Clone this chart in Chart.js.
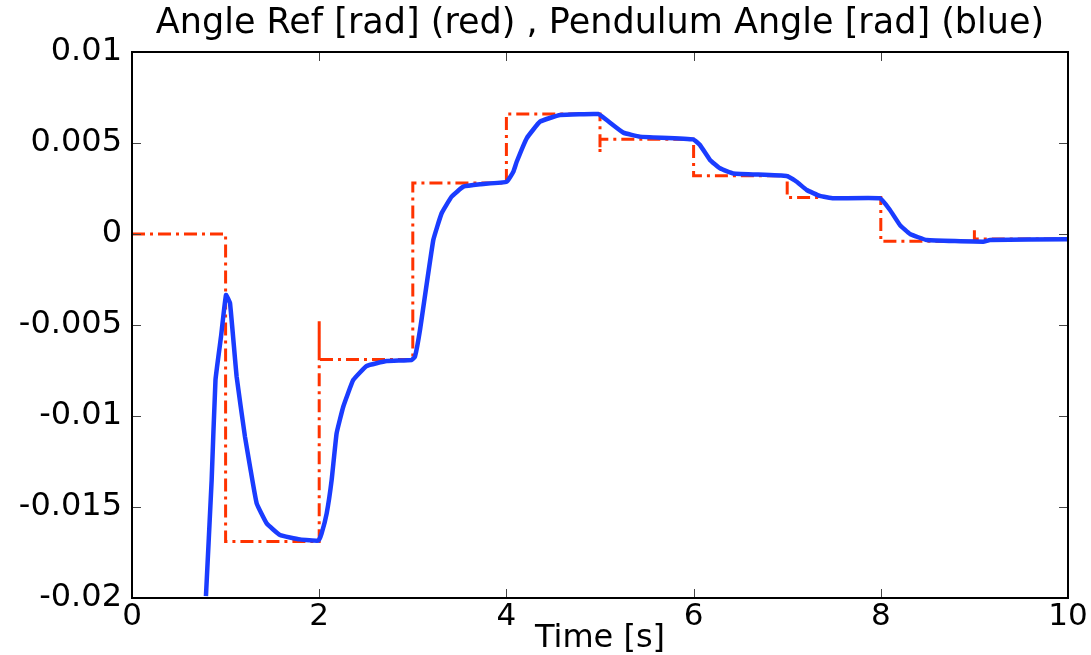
<!DOCTYPE html>
<html>
<head>
<meta charset="utf-8">
<script src="https://cdn.jsdelivr.net/npm/chart.js@4.4.1/dist/chart.umd.min.js"></script>
<style>
  html, body { margin: 0; padding: 0; background: #fff; }
  #wrap { width: 1091px; height: 655px; }
</style>
</head>
<body>
<div id="wrap"><canvas id="angleChart" width="1091" height="655"></canvas></div>
<script>
// reference angle (step input), [time, rad]
const refTime  = [0, 1, 1, 2, 2, 2, 3, 3, 4, 4, 5, 5, 5, 6, 6, 7, 7, 8, 8, 9, 9, 9, 10];
const refAngle = [0, 0, -0.0169, -0.0169, -0.0048, -0.0069, -0.0069, 0.0028, 0.0028, 0.0066, 0.0066,
  0.0045, 0.0052, 0.0052, 0.0032, 0.0032, 0.0020, 0.0020, -0.0004, -0.0004, 0.00026, -0.00027, -0.00027];

// measured pendulum angle, [time, rad]
const pendTime = [0.79, 0.851, 0.892, 0.951, 1.004, 1.047, 1.118, 1.207, 1.261, 1.332, 1.439, 1.581, 1.795, 1.991,
  2.026, 2.08, 2.133, 2.186, 2.257, 2.364, 2.507, 2.721, 2.988,
  3.023, 3.077, 3.219, 3.308, 3.415, 3.54, 3.718, 4.003, 4.074, 4.11, 4.217, 4.359, 4.573, 4.982,
  5.071, 5.249, 5.427, 5.997, 6.068, 6.175, 6.282, 6.424, 6.994,
  7.101, 7.208, 7.35, 7.493, 7.991, 8.098, 8.205, 8.312, 8.49, 9.095, 9.167, 9.986, 10];
const pendAngle = [-0.0199, -0.01352, -0.00802, -0.00564, -0.00335, -0.0038, -0.00784, -0.01114, -0.01278, -0.0148,
  -0.0159, -0.01654, -0.01678, -0.01685,
  -0.01645, -0.01535, -0.01352, -0.01095, -0.00949, -0.00802, -0.00725, -0.00698, -0.00692,
  -0.00674, -0.00527, -0.00033, 0.00114, 0.00205, 0.0026, 0.00273, 0.00287, 0.00342, 0.00397, 0.00526,
  0.00617, 0.00654, 0.00659,
  0.00626, 0.00557, 0.00535, 0.0052, 0.00489, 0.00407, 0.00361, 0.00333, 0.00319,
  0.00287, 0.00242, 0.00209, 0.00196, 0.00196, 0.00132, 0.00049, 0, -0.00033, -0.00042, -0.00033, -0.00029, -0.0003];

const xTicks = [0, 2, 4, 6, 8, 10];
const xTickLabels = ['0', '2', '4', '6', '8', '10'];
const yTicks = [0.01, 0.005, 0, -0.005, -0.01, -0.015, -0.02];
const yTickLabels = ['0.01', '0.005', '0', '-0.005', '-0.01', '-0.015', '-0.02'];

const FONT = 'DejaVu Sans';

// frame around the plot with inward tick marks (matlab style)
const boxAxes = {
  id: 'boxAxes',
  afterDatasetsDraw(chart) {
    const { ctx, chartArea: a, scales } = chart;
    ctx.save();
    ctx.strokeStyle = '#444';
    ctx.lineWidth = 1;
    ctx.beginPath();
    scales.x.ticks.forEach(t => {
      const px = Math.round(scales.x.getPixelForValue(t.value)) + 0.5;
      ctx.moveTo(px, a.bottom); ctx.lineTo(px, a.bottom - 9);
      ctx.moveTo(px, a.top); ctx.lineTo(px, a.top + 9);
    });
    scales.y.ticks.forEach(t => {
      const py = Math.round(scales.y.getPixelForValue(t.value)) + 0.5;
      ctx.moveTo(a.left, py); ctx.lineTo(a.left + 9, py);
      ctx.moveTo(a.right, py); ctx.lineTo(a.right - 9, py);
    });
    ctx.stroke();
    ctx.strokeStyle = '#000';
    ctx.lineWidth = 2;
    ctx.strokeRect(a.left, a.top, a.right - a.left, a.bottom - a.top);
    ctx.restore();
  }
};

const toPoints = (xs, ys) => xs.map((x, i) => ({ x, y: ys[i] }));

new Chart(document.getElementById('angleChart').getContext('2d'), {
  type: 'line',
  data: {
    datasets: [
      {
        label: 'Angle Ref',
        data: toPoints(refTime, refAngle),
        borderColor: '#ff3300',
        borderWidth: 3,
        borderDash: [13, 5, 3, 5],
        pointRadius: 0,
        tension: 0,
        order: 1
      },
      {
        label: 'Pendulum Angle',
        data: toPoints(pendTime, pendAngle),
        borderColor: '#1a3cff',
        borderWidth: 4.5,
        pointRadius: 0,
        tension: 0.1,
        order: 0
      }
    ]
  },
  options: {
    responsive: false,
    animation: false,
    layout: { padding: { left: 0, right: 23, top: 0, bottom: 0 } },
    plugins: {
      legend: { display: false },
      tooltip: { enabled: false }
    },
    scales: {
      x: {
        type: 'linear',
        min: 0,
        max: 10,
        afterBuildTicks: s => { s.ticks = xTicks.map(v => ({ value: v })); },
        afterFit: s => { s.height = 57; },
        grid: { display: false, drawTicks: false },
        border: { display: false },
        ticks: {
          color: '#000',
          padding: 0,
          maxRotation: 0,
          font: { family: FONT, size: 31 },
          callback: (v, i) => xTickLabels[i]
        },
        title: {
          display: true,
          text: 'Time [s]',
          color: '#000',
          font: { family: FONT, size: 32, lineHeight: 1 },
          padding: { top: 0, bottom: 0 }
        }
      },
      // top axis only carries the plot title, so it is centred over the plot area
      xTop: {
        type: 'linear',
        position: 'top',
        min: 0,
        max: 10,
        afterFit: s => { s.height = 52; },
        grid: { display: false, drawTicks: false },
        border: { display: false },
        ticks: { display: false },
        title: {
          display: true,
          text: 'Angle Ref [rad] (red) , Pendulum Angle [rad] (blue)',
          color: '#000',
          font: { family: FONT, size: 35, lineHeight: 1.35 },
          padding: { top: 0, bottom: 0 }
        }
      },
      y: {
        type: 'linear',
        min: -0.02,
        max: 0.01,
        afterBuildTicks: s => { s.ticks = yTicks.map(v => ({ value: v })); },
        afterFit: s => { s.width = 132; },
        grid: { display: false, drawTicks: false },
        border: { display: false },
        ticks: {
          color: '#000',
          padding: 10,
          font: { family: FONT, size: 32 },
          callback: (v, i) => yTickLabels[i]
        }
      }
    }
  },
  plugins: [boxAxes]
});
</script>
</body>
</html>
